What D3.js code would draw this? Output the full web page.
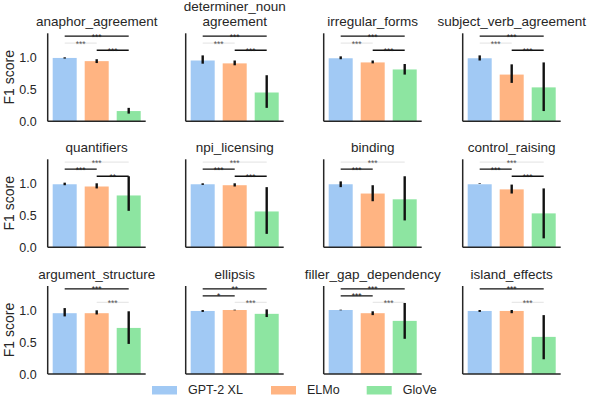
<!DOCTYPE html>
<html>
<head>
<meta charset="utf-8">
<script src="https://cdn.jsdelivr.net/npm/d3@7"></script>
<style>
  body { margin: 0; background: #fff; }
  svg { display: block; font-family: "Liberation Sans", Arial, sans-serif; }
</style>
</head>
<body>
<svg id="chart" width="590" height="396"></svg>
<script>
// data
var models = ["GPT-2 XL", "ELMo", "GloVe"];
var colors = ["#a1c9f4", "#ffb482", "#8de5a1"];
var titles = ["anaphor_agreement", "determiner_noun\nagreement", "irregular_forms", "subject_verb_agreement",
  "quantifiers", "npi_licensing", "binding", "control_raising",
  "argument_structure", "ellipsis", "filler_gap_dependency", "island_effects"];

var gptMean  = [0.99, 0.95, 0.985, 0.985, 0.985, 0.985, 0.985, 0.985, 0.95, 0.985, 1.0, 0.985];
var gptLo    = [0.98, 0.90, 0.97, 0.95, 0.97, 0.975, 0.94, 0.995, 0.90, 0.97, 0.995, 0.97];
var gptHi    = [1.0, 1.03, 1.015, 1.03, 1.01, 1.0, 1.03, 1.005, 1.03, 1.0, 1.005, 1.0];
var elmoMean = [0.94, 0.905, 0.92, 0.73, 0.95, 0.97, 0.84, 0.905, 0.95, 1.0, 0.95, 0.985];
var elmoLo   = [0.91, 0.875, 0.905, 0.60, 0.92, 0.95, 0.72, 0.84, 0.93, 0.995, 0.92, 0.95];
var elmoHi   = [0.97, 0.95, 0.95, 0.89, 1.0, 1.0, 0.97, 0.98, 0.995, 1.005, 0.98, 1.0];
var gloveMean = [0.16, 0.45, 0.81, 0.53, 0.81, 0.56, 0.75, 0.53, 0.72, 0.94, 0.83, 0.58];
var gloveLo   = [0.12, 0.21, 0.73, 0.16, 0.57, 0.21, 0.42, 0.14, 0.47, 0.89, 0.55, 0.23];
var gloveHi   = [0.21, 0.72, 0.895, 0.92, 1.11, 0.94, 1.11, 0.92, 0.98, 1.01, 1.11, 0.92];

var yTicks = [0, 0.5, 1.0];
// significance brackets: [from bar, to bar, stars, height, faint?]
var sigMarks = [
  [[0, 2, "***", 1.33, 0], [0, 1, "***", 1.22, 1], [1, 2, "***", 1.11, 0]],
  [[0, 2, "***", 1.33, 0], [0, 1, "***", 1.22, 1], [1, 2, "***", 1.11, 0]],
  [[0, 2, "***", 1.33, 0], [0, 1, "***", 1.22, 1], [1, 2, "***", 1.11, 0]],
  [[0, 2, "***", 1.33, 0], [0, 1, "***", 1.22, 1], [1, 2, "***", 1.11, 0]],
  [[0, 2, "***", 1.33, 1], [0, 1, "***", 1.22, 0], [1, 2, "**", 1.11, 0]],
  [[0, 2, "***", 1.33, 1], [0, 1, "***", 1.22, 0], [1, 2, "***", 1.11, 0]],
  [[0, 2, "***", 1.33, 1], [0, 1, "***", 1.22, 0]],
  [[0, 2, "***", 1.33, 1], [0, 1, "***", 1.22, 0], [1, 2, "***", 1.11, 0]],
  [[0, 2, "***", 1.33, 0], [1, 2, "***", 1.12, 1]],
  [[0, 2, "**", 1.33, 0], [0, 1, "*", 1.22, 0], [1, 2, "***", 1.12, 1]],
  [[0, 2, "***", 1.33, 0], [0, 1, "***", 1.22, 0], [1, 2, "***", 1.12, 1]],
  [[0, 2, "***", 1.33, 0], [1, 2, "***", 1.12, 1]]
];

var svg = d3.select("#chart");
var ink = "#262626";
var panelW = 98, panelH = 88;
var colLeft = [47.7, 185.7, 323.7, 462.7];
var rowTop = [33.3, 159.3, 286];

var x = d3.scaleBand().domain([0, 1, 2]).range([0, panelW]).paddingInner(0.25).paddingOuter(0.156);
var y = d3.scaleLinear().domain([0, 1.375]).range([panelH, 0]);

titles.forEach(function(title, i){
  var g = svg.append("g")
    .attr("transform", "translate(" + colLeft[i % 4] + "," + rowTop[Math.floor(i / 4)] + ")");

  var bars = [
    {m: gptMean[i], lo: gptLo[i], hi: gptHi[i]},
    {m: elmoMean[i], lo: elmoLo[i], hi: elmoHi[i]},
    {m: gloveMean[i], lo: gloveLo[i], hi: gloveHi[i]}
  ];

  g.selectAll("rect.bar").data(bars).enter().append("rect")
    .attr("class", "bar")
    .attr("x", function(d, k){ return x(k); })
    .attr("width", x.bandwidth())
    .attr("y", function(d){ return y(d.m); })
    .attr("height", function(d){ return y(0) - y(d.m); })
    .attr("fill", function(d, k){ return colors[k]; });

  g.selectAll("line.err").data(bars).enter().append("line")
    .attr("class", "err")
    .attr("x1", function(d, k){ return x(k) + x.bandwidth() / 2; })
    .attr("x2", function(d, k){ return x(k) + x.bandwidth() / 2; })
    .attr("y1", function(d){ return y(d.lo); })
    .attr("y2", function(d){ return y(d.hi); })
    .attr("stroke", "#111").attr("stroke-width", 2.4);

  // spines
  g.append("line").attr("x1", 0).attr("x2", 0).attr("y1", 0).attr("y2", panelH)
    .attr("stroke", ink).attr("stroke-width", 1.5);
  g.append("line").attr("x1", 0).attr("x2", panelW).attr("y1", panelH).attr("y2", panelH)
    .attr("stroke", ink).attr("stroke-width", 1.5);

  if(i % 4 === 0){
    var yAxis = d3.axisLeft(y).tickValues(yTicks).tickFormat(d3.format(".1f")).tickSize(0).tickPadding(11);
    var ax = g.append("g").call(yAxis);
    ax.select(".domain").remove();
    ax.selectAll("text").attr("fill", ink).style("font-size", "12.5px")
      .style("font-family", "'Liberation Sans', Arial, sans-serif");
    g.append("text")
      .attr("transform", "translate(" + (-34) + "," + (panelH / 2) + ") rotate(-90)")
      .attr("text-anchor", "middle")
      .attr("fill", ink).style("font-size", "14px")
      .text("F1 score");
  }

  var lines = title.split("\n");
  lines.forEach(function(t, k){
    g.append("text")
      .attr("x", panelW / 2)
      .attr("y", -7 - (lines.length - 1 - k) * 15.3)
      .attr("text-anchor", "middle")
      .attr("fill", ink).style("font-size", "13.5px")
      .text(t);
  });

  sigMarks[i].forEach(function(s){
    var x1 = x(s[0]) + x.bandwidth() / 2, x2 = x(s[1]) + x.bandwidth() / 2;
    g.append("line")
      .attr("x1", x1).attr("x2", x2).attr("y1", y(s[3])).attr("y2", y(s[3]))
      .attr("stroke", s[4] ? "#e8e8e8" : "#111").attr("stroke-width", 1.3);
    g.append("text")
      .attr("x", (x1 + x2) / 2).attr("y", y(s[3]) + 3.4)
      .attr("text-anchor", "middle")
      .attr("fill", s[4] ? "#555" : "#222").style("font-size", "8.5px")
      .text(s[2]);
  });
});

// legend
var legendX = [152, 271, 366.7];
var legend = svg.selectAll("g.legend").data(models).enter().append("g")
  .attr("class", "legend")
  .attr("transform", function(d, k){ return "translate(" + legendX[k] + ",386)"; });
legend.append("rect").attr("width", 25).attr("height", 8.5)
  .attr("fill", function(d, k){ return colors[k]; });
legend.append("text").attr("x", 36).attr("y", 8)
  .attr("fill", ink).style("font-size", "12.5px")
  .text(function(d){ return d; });
</script>
</body>
</html>
